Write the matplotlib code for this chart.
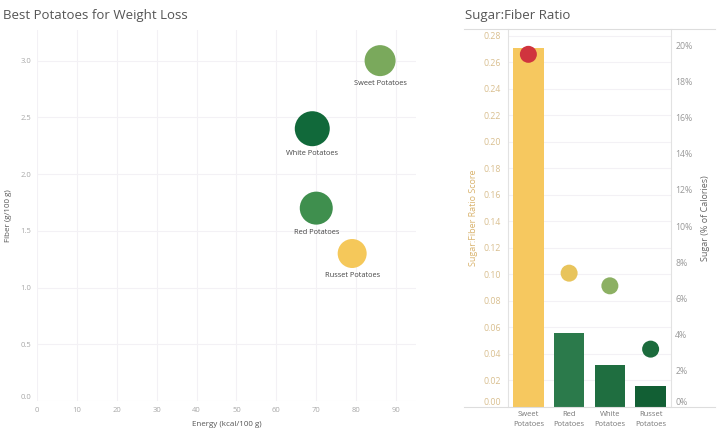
import matplotlib.pyplot as plt
from matplotlib.ticker import PercentFormatter

plt.rcParams['font.family'] = ['Open Sans', 'DejaVu Sans']

# --- data ---
potatoes = ['Sweet Potatoes', 'White Potatoes', 'Red Potatoes', 'Russet Potatoes']
energy = [86, 69, 70, 79]          # kcal/100 g
fiber = [3.0, 2.4, 1.7, 1.3]       # g/100 g
bubble_colors = ['#7aa95c', '#11693a', '#3f8f4e', '#f5c85a']
bubble_diam_px = [31, 35, 33, 29]

ratio_cats = ['Sweet\nPotatoes', 'Red\nPotatoes', 'White\nPotatoes', 'Russet\nPotatoes']
ratio_score = [0.271, 0.056, 0.032, 0.016]
sugar_pct = [0.195, 0.074, 0.067, 0.032]
bar_colors = ['#f6c85f', '#2b7a4b', '#1f6e40', '#125f34']
dot_colors = ['#d0343e', '#e8c45c', '#8cb063', '#1b6b3c']

TICK = '#a8a8a8'
TXT = '#555555'
GRID = '#f3f1f5'

fig = plt.figure(figsize=(7.2, 4.34), dpi=100)

# ---------------- scatter ----------------
ax = fig.add_axes([37 / 720, 33 / 434, 379 / 720, 371 / 434])
sizes = [(d * 0.72) ** 2 for d in bubble_diam_px]
ax.scatter(energy, fiber, s=sizes, c=bubble_colors, zorder=3, linewidths=0)
for x, y, name, d in zip(energy, fiber, potatoes, bubble_diam_px):
    ax.annotate(name, (x, y), xytext=(0, -d * 0.72 / 2 - 3), textcoords='offset points',
                ha='center', va='top', fontsize=5.3, color='#444444')
ax.set_xlim(0, 95)
ax.set_ylim(0, 3.27)
ax.set_xticks(range(0, 100, 10))
ax.set_yticks([0, 0.5, 1.0, 1.5, 2.0, 2.5, 3.0])
ax.set_yticklabels(['0.0', '0.5', '1.0', '1.5', '2.0', '2.5', '3.0'])
ax.grid(True, color=GRID, lw=0.8)
ax.set_axisbelow(True)
for s in ax.spines.values():
    s.set_visible(False)
ax.tick_params(length=0, labelsize=5.5, colors=TICK, pad=4)
ax.yaxis.get_major_ticks()[0].label1.set_verticalalignment('bottom')
ax.set_xlabel('Energy (kcal/100 g)', fontsize=5.8, color=TXT, labelpad=5)
ax.set_ylabel('Fiber (g/100 g)', fontsize=5.8, color=TXT, labelpad=6)
fig.text(3 / 720, 1 - 16 / 434, 'Best Potatoes for Weight Loss', fontsize=9.5,
         color='#555555', va='center')

# ---------------- sugar:fiber ----------------
bx = fig.add_axes([508 / 720, 27 / 434, 163 / 720, 378 / 434])
xs = range(len(ratio_cats))
bx.bar(xs, ratio_score, width=0.75, color=bar_colors, zorder=2)
bx.set_xlim(-0.5, 3.5)
bx.set_ylim(0, 0.285)
bx.set_yticks([i * 0.02 for i in range(15)])
bx.set_yticklabels([f'{i * 0.02:.2f}' for i in range(15)])
bx.yaxis.get_major_ticks()[0].label1.set_verticalalignment('bottom')
bx.set_xticks(list(xs))
bx.set_xticklabels(ratio_cats, fontsize=5.5, color='#777777', linespacing=1.5)
bx.grid(True, axis='y', color=GRID, lw=0.8)
bx.set_axisbelow(True)
bx.tick_params(axis='y', length=0, labelsize=6.3, colors='#d9bf8f', pad=5)
bx.tick_params(axis='x', length=0, pad=3)
for k in ['top', 'right', 'bottom']:
    bx.spines[k].set_visible(False)
bx.spines['left'].set_color('#e2e2e2')
bx.set_ylabel('Sugar:Fiber Ratio Score', fontsize=6.5, color='#d9b36e', labelpad=4)

rx = bx.twinx()
rx.scatter(xs, sugar_pct, s=(17 * 0.72) ** 2, c=dot_colors, zorder=4, linewidths=0)
rx.set_ylim(0, 0.209)
rx.set_yticks([i * 0.02 for i in range(11)])
rx.yaxis.set_major_formatter(PercentFormatter(1.0, decimals=0))
rx.yaxis.get_major_ticks()[0].label2.set_verticalalignment('bottom')
rx.tick_params(length=0, labelsize=6.3, colors='#999999', pad=3)
for k in ['top', 'left', 'bottom']:
    rx.spines[k].set_visible(False)
rx.spines['right'].set_color('#e2e2e2')
rx.set_ylabel('Sugar (% of Calories)', fontsize=6.5, color='#666666', labelpad=6)

# frame lines above and below the bar panel
fig.add_artist(plt.Line2D([464 / 720, 715 / 720], [1 - 29 / 434] * 2, color='#dddddd', lw=0.8))
fig.add_artist(plt.Line2D([464 / 720, 715 / 720], [1 - 407 / 434] * 2, color='#dddddd', lw=0.8))
fig.text(465 / 720, 1 - 16 / 434, 'Sugar:Fiber Ratio', fontsize=9.5, color='#555555', va='center')

fig.savefig('out.png', dpi=100)
